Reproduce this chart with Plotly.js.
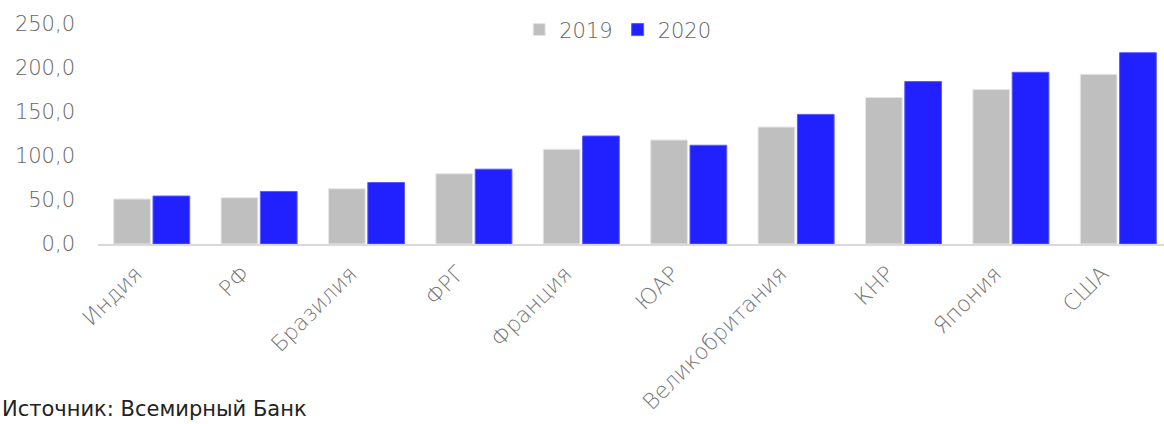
<!DOCTYPE html>
<html>
<head>
<meta charset="utf-8">
<script src="https://cdn.plot.ly/plotly-3.0.1.min.js"></script>
<style>html,body{margin:0;padding:0;background:#fff;}#chart{width:1164px;height:424px;}</style>
</head>
<body>
<div id="chart"></div>
<script>
const categories = ["Индия", "РФ", "Бразилия", "ФРГ", "Франция", "ЮАР", "Великобритания", "КНР", "Япония", "США"];
const values2019 = [51.1, 52.6, 62.8, 79.8, 107.7, 118.2, 132.9, 166.5, 175.6, 192.9];
const values2020 = [54.5, 59.7, 69.9, 85.0, 122.7, 112.2, 147.3, 184.6, 195.1, 217.4];
const seriesNames = ["2019", "2020"];
const yTicks = [0, 50, 100, 150, 200, 250];
const sourceText = "Источник: Всемирный Банк";

const W = 1164, H = 424;
const mL = 98, mR = 0, mT = 24, mB = 179.5;
const plotW = W - mL - mR;
const FONT = "DejaVu Sans, sans-serif";

const traces = [
  {type: "bar", name: seriesNames[0], x: categories, y: values2019,
   marker: {color: "#BFBFBF", line: {color: "#E6E6E6", width: 1}}},
  {type: "bar", name: seriesNames[1], x: categories, y: values2020,
   marker: {color: "#2121FF", line: {color: "#5A5AFF", width: 1}}}
];

const layout = {
  width: W, height: H,
  margin: {l: mL, r: mR, t: mT, b: mB, pad: 0},
  paper_bgcolor: "#fff", plot_bgcolor: "#fff",
  separators: ", ",
  barmode: "group",
  bargap: 0.268,
  bargroupgap: 0.066,
  font: {family: FONT, color: "#666666"},
  showlegend: true,
  legend: {orientation: "h", x: 0.4875, xanchor: "center", y: 0.973, yanchor: "middle",
           font: {size: 21, color: "#666666", family: FONT, weight: 200}, itemwidth: 30, bgcolor: "rgba(0,0,0,0)"},
  xaxis: {
    type: "category",
    range: [-0.5, -0.5 + plotW / 107.4],
    tickangle: -45,
    tickfont: {size: 22, color: "#777777", family: FONT, weight: 200},
    ticklabelshift: -16,
    ticklabelstandoff: 6,
    showline: true, linecolor: "#D9D9D9", linewidth: 2,
    ticks: "", showgrid: false, zeroline: false,
    fixedrange: true
  },
  yaxis: {
    range: [0, 250],
    tickvals: yTicks,
    tickformat: ".1f",
    tickfont: {size: 21, color: "#666666", family: FONT, weight: 200},
    showgrid: false, zeroline: false, showline: false, ticks: "",
    ticklabelstandoff: 22,
    fixedrange: true
  },
  annotations: [{
    text: sourceText, xref: "paper", yref: "paper",
    x: -mL / plotW, y: -(410 - (H - mB)) / (H - mT - mB),
    xanchor: "left", yanchor: "middle", showarrow: false,
    font: {size: 21, color: "#222222", family: FONT}
  }]
};

Plotly.newPlot("chart", traces, layout, {displayModeBar: false, staticPlot: true});
</script>
</body>
</html>
